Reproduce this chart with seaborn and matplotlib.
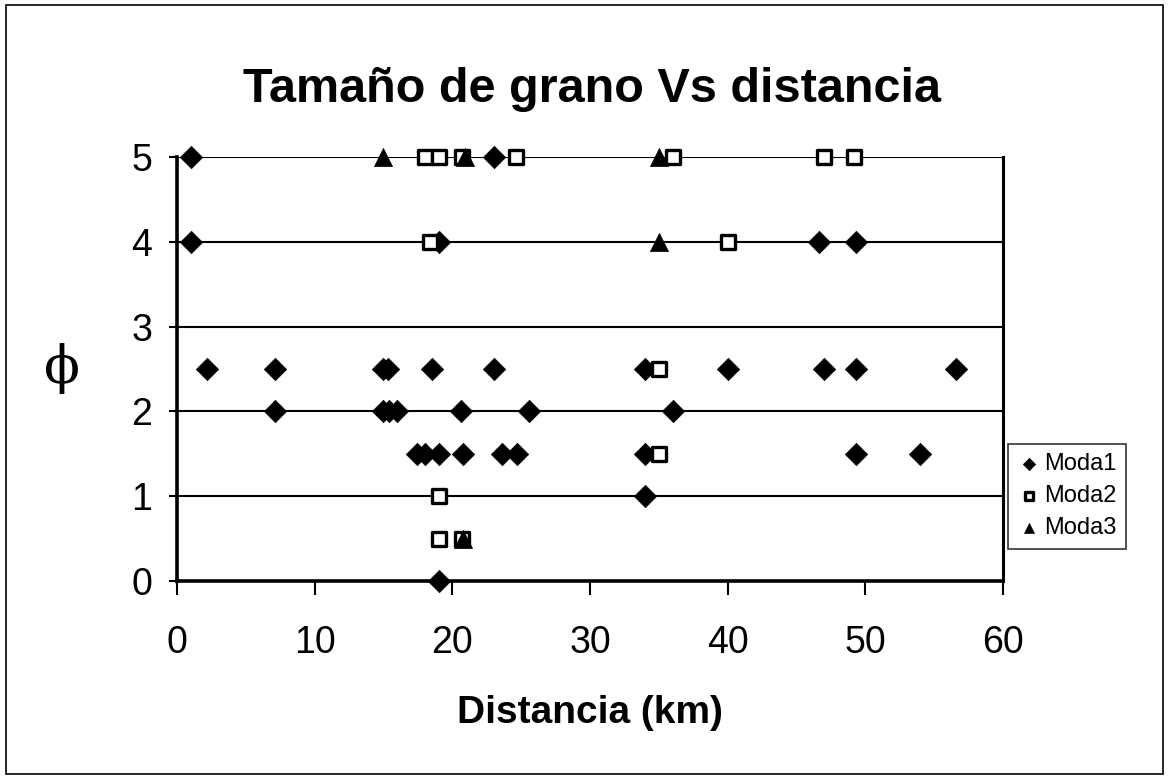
import matplotlib
matplotlib.use("Agg")
import matplotlib.pyplot as plt
import seaborn as sns
import pandas as pd
from matplotlib.patches import Rectangle

# Data
moda1_x = [1, 23, 1, 19, 46.6, 49.3,
           2.2, 7.1, 15, 15.3, 18.5, 23, 34, 40, 47, 49.3, 56.6,
           7.1, 15, 15.4, 16, 20.6, 25.6, 36,
           17.4, 18, 19, 20.8, 23.6, 24.7, 34, 49.3, 54,
           34, 19]
moda1_y = [5, 5, 4, 4, 4, 4,
           2.5, 2.5, 2.5, 2.5, 2.5, 2.5, 2.5, 2.5, 2.5, 2.5, 2.5,
           2, 2, 2, 2, 2, 2, 2,
           1.5, 1.5, 1.5, 1.5, 1.5, 1.5, 1.5, 1.5, 1.5,
           1, 0]
moda2_x = [18, 19, 20.7, 24.6, 36, 47, 49.2, 18.4, 40, 35, 35, 19, 19, 20.7]
moda2_y = [5, 5, 5, 5, 5, 5, 5, 4, 4, 2.5, 1.5, 1, 0.5, 0.5]
moda3_x = [15, 20.9, 35, 35, 20.8]
moda3_y = [5, 5, 5, 4, 0.5]

series_names = ["Moda1", "Moda2", "Moda3"]
x_ticks = [0, 10, 20, 30, 40, 50, 60]
y_ticks = [0, 1, 2, 3, 4, 5]

df = pd.concat([
    pd.DataFrame({"x": moda1_x, "y": moda1_y, "serie": "Moda1"}),
    pd.DataFrame({"x": moda2_x, "y": moda2_y, "serie": "Moda2"}),
    pd.DataFrame({"x": moda3_x, "y": moda3_y, "serie": "Moda3"}),
], ignore_index=True)

sns.set_style("white")
plt.rcParams["font.family"] = ["Liberation Sans", "DejaVu Sans"]
plt.rcParams["text.color"] = "black"
plt.rcParams["axes.labelcolor"] = "black"
plt.rcParams["xtick.color"] = "black"
plt.rcParams["ytick.color"] = "black"

fig = plt.figure(figsize=(11.69, 7.79), dpi=100)
ax = fig.add_axes([0.1514, 0.2542, 0.858 - 0.1514, 0.7985 - 0.2542])

# gridlines
for yv in y_ticks[1:]:
    ax.axhline(yv, color="black", lw=1.5, zorder=1)

styles = {
    "Moda1": dict(marker="D", s=130, facecolor="black", edgecolor="black", lw=0.5),
    "Moda2": dict(marker="s", s=105, facecolor="white", edgecolor="black", lw=2.4),
    "Moda3": dict(marker="^", s=170, facecolor="black", edgecolor="black", lw=0.5),
}
for name in series_names:
    st = styles[name]
    sub = df[df["serie"] == name]
    sns.scatterplot(data=sub, x="x", y="y", marker=st["marker"], s=st["s"],
                    color=st["facecolor"], edgecolor=st["edgecolor"],
                    linewidth=st["lw"], ax=ax, zorder=3, clip_on=False,
                    label=name)

ax.set_xlim(0, 60)
ax.set_ylim(0, 5)
ax.set_xticks(x_ticks)
ax.set_yticks(y_ticks)
ax.tick_params(axis="both", labelsize=27, colors="black", direction="out")
ax.tick_params(axis="x", length=10, width=1.5, pad=22)
ax.tick_params(axis="y", length=6, width=1.5, pad=12)
ax.xaxis.set_ticks_position("bottom")
ax.yaxis.set_ticks_position("left")

for side in ["left", "bottom"]:
    ax.spines[side].set_linewidth(2.6)
    ax.spines[side].set_color("black")
ax.spines["right"].set_linewidth(2.2)
ax.spines["right"].set_color("black")
ax.spines["top"].set_visible(False)

ax.set_xlabel("Distancia (km)", fontsize=28, fontweight="bold", labelpad=24)
ax.set_ylabel("ϕ", fontsize=38, rotation=0, labelpad=50, va="center",
              family=["DejaVu Serif"])
fig.text(0.506, 0.885, "Tamaño de grano Vs distancia", fontsize=35,
         fontweight="bold", ha="center", va="center")

leg = ax.legend(loc="upper left", bbox_to_anchor=(0.862, 0.43),
                bbox_transform=fig.transFigure, fontsize=17,
                frameon=True, fancybox=False, edgecolor="black",
                handletextpad=0.15, handlelength=1.0, borderpad=0.4,
                labelspacing=0.42, markerscale=0.55, borderaxespad=0)
leg.get_frame().set_linewidth(1.2)

fig.patches.append(Rectangle((0.005, 0.006), 0.99, 0.988, transform=fig.transFigure,
                             fill=False, edgecolor="black", lw=1.2))

fig.savefig("out.png", dpi=100, facecolor="white")
